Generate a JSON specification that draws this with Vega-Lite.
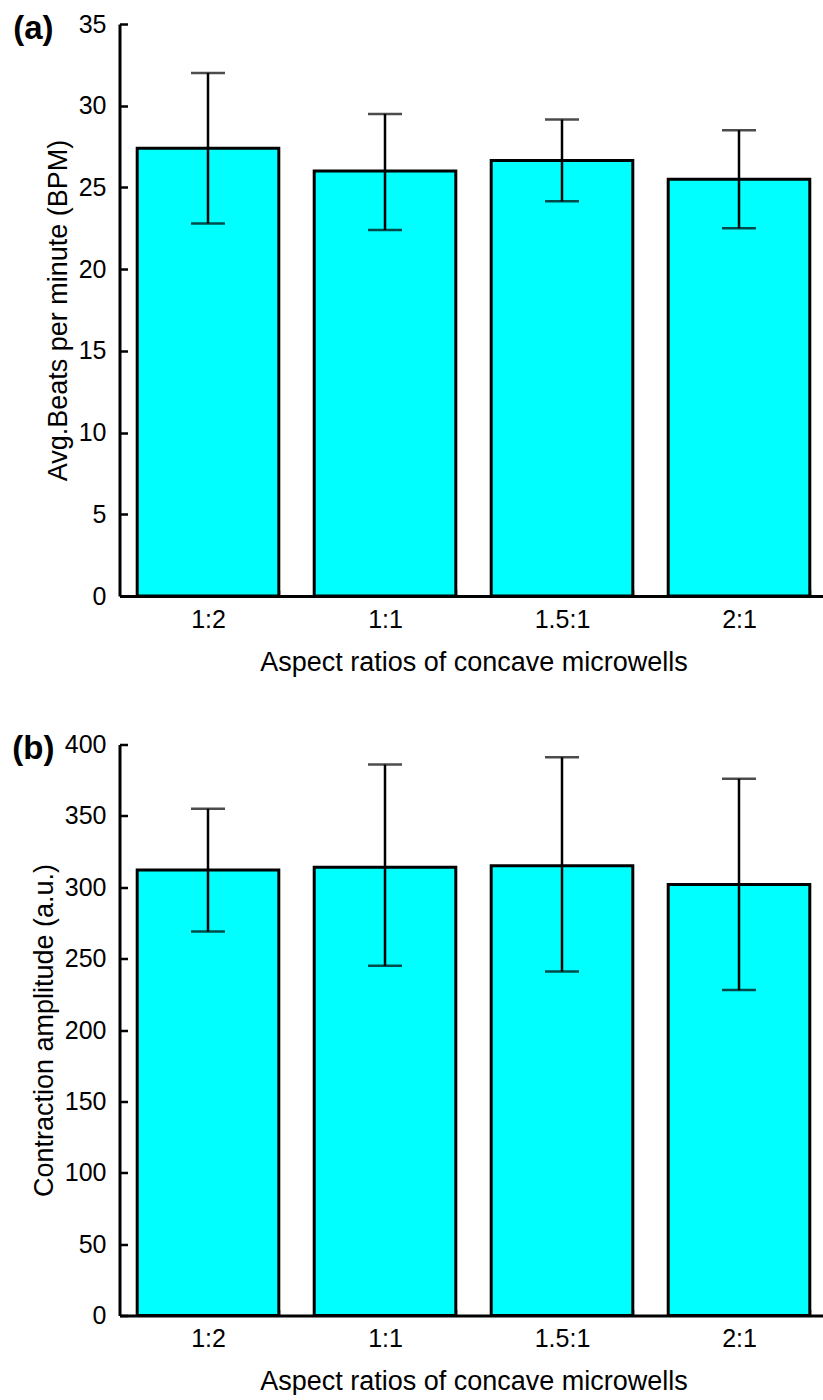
{
  "$schema": "https://vega.github.io/schema/vega-lite/v6.json",
  "padding": {"left": 11.5, "top": 12, "right": 0, "bottom": 0},
  "background": "white",
  "spacing": 57.5,
  "config": {
    "font": "Liberation Sans",
    "view": {"stroke": null},
    "axis": {
      "domainColor": "black", "domainWidth": 3, "tickColor": "black", "tickWidth": 2.5,
      "labelColor": "black", "titleColor": "black", "labelFont": "Liberation Sans", "titleFont": "Liberation Sans",
      "labelFontSize": 25, "titleFontSize": 27, "titleFontWeight": "normal", "grid": false, "zindex": 1
    },
    "title": {"font": "Liberation Sans", "fontSize": 33, "fontWeight": "bold", "color": "black", "anchor": "start", "frame": "bounds", "offset": 0}
  },
  "vconcat": [
    {
      "title": {"text": "(a)", "dx": -31, "dy": 37.5},
      "width": 708,
      "height": 572,
      "data": {"values": [
        {"ratio": "1:2", "mean": 27.4, "lo": 22.8, "hi": 32.0},
        {"ratio": "1:1", "mean": 26.0, "lo": 22.4, "hi": 29.5},
        {"ratio": "1.5:1", "mean": 26.65, "lo": 24.15, "hi": 29.15},
        {"ratio": "2:1", "mean": 25.5, "lo": 22.5, "hi": 28.5}
      ]},
      "encoding": {
        "x": {"field": "ratio", "type": "nominal", "sort": null,
          "scale": {"paddingInner": 0.2, "paddingOuter": 0.1},
          "axis": {"title": "Aspect ratios of concave microwells", "labelAngle": 0, "tickBand": "extent", "ticks": true, "tickSize": -6, "labelPadding": 17, "titlePadding": 17}}
      },
      "layer": [
        {"mark": {"type": "bar", "fill": "#00FFFF", "stroke": "black", "strokeWidth": 3},
         "encoding": {"y": {"field": "mean", "type": "quantitative", "title": "Avg.Beats per minute (BPM)",
           "scale": {"domain": [0, 35]},
           "axis": {"values": [0, 5, 10, 15, 20, 25, 30, 35], "ticks": true, "tickSize": -8, "labelPadding": 21.5, "titlePadding": 6}}}},
        {"mark": {"type": "rule", "color": "black", "strokeWidth": 2.5},
         "encoding": {"y": {"field": "lo", "type": "quantitative", "title": "Avg.Beats per minute (BPM)"}, "y2": {"field": "hi"}}},
        {"mark": {"type": "tick", "color": "black", "size": 34, "thickness": 2.5},
         "encoding": {"y": {"field": "hi", "type": "quantitative", "title": "Avg.Beats per minute (BPM)"}}},
        {"mark": {"type": "tick", "color": "black", "size": 34, "thickness": 2.5},
         "encoding": {"y": {"field": "lo", "type": "quantitative", "title": "Avg.Beats per minute (BPM)"}}}
      ]
    },
    {
      "title": {"text": "(b)", "dx": -18, "dy": 37.5},
      "width": 708,
      "height": 571,
      "data": {"values": [
        {"ratio": "1:2", "mean": 312, "lo": 269, "hi": 355},
        {"ratio": "1:1", "mean": 314, "lo": 245, "hi": 386},
        {"ratio": "1.5:1", "mean": 315, "lo": 241, "hi": 391},
        {"ratio": "2:1", "mean": 302, "lo": 228, "hi": 376}
      ]},
      "encoding": {
        "x": {"field": "ratio", "type": "nominal", "sort": null,
          "scale": {"paddingInner": 0.2, "paddingOuter": 0.1},
          "axis": {"title": "Aspect ratios of concave microwells", "labelAngle": 0, "tickBand": "extent", "ticks": true, "tickSize": -6, "labelPadding": 17, "titlePadding": 17}}
      },
      "layer": [
        {"mark": {"type": "bar", "fill": "#00FFFF", "stroke": "black", "strokeWidth": 3},
         "encoding": {"y": {"field": "mean", "type": "quantitative", "title": "Contraction amplitude  (a.u.)",
           "scale": {"domain": [0, 400]},
           "axis": {"values": [0, 50, 100, 150, 200, 250, 300, 350, 400], "ticks": true, "tickSize": -8, "labelPadding": 21.5, "titlePadding": 6}}}},
        {"mark": {"type": "rule", "color": "black", "strokeWidth": 2.5},
         "encoding": {"y": {"field": "lo", "type": "quantitative", "title": "Contraction amplitude  (a.u.)"}, "y2": {"field": "hi"}}},
        {"mark": {"type": "tick", "color": "black", "size": 34, "thickness": 2.5},
         "encoding": {"y": {"field": "hi", "type": "quantitative", "title": "Contraction amplitude  (a.u.)"}}},
        {"mark": {"type": "tick", "color": "black", "size": 34, "thickness": 2.5},
         "encoding": {"y": {"field": "lo", "type": "quantitative", "title": "Contraction amplitude  (a.u.)"}}}
      ]
    }
  ]
}
